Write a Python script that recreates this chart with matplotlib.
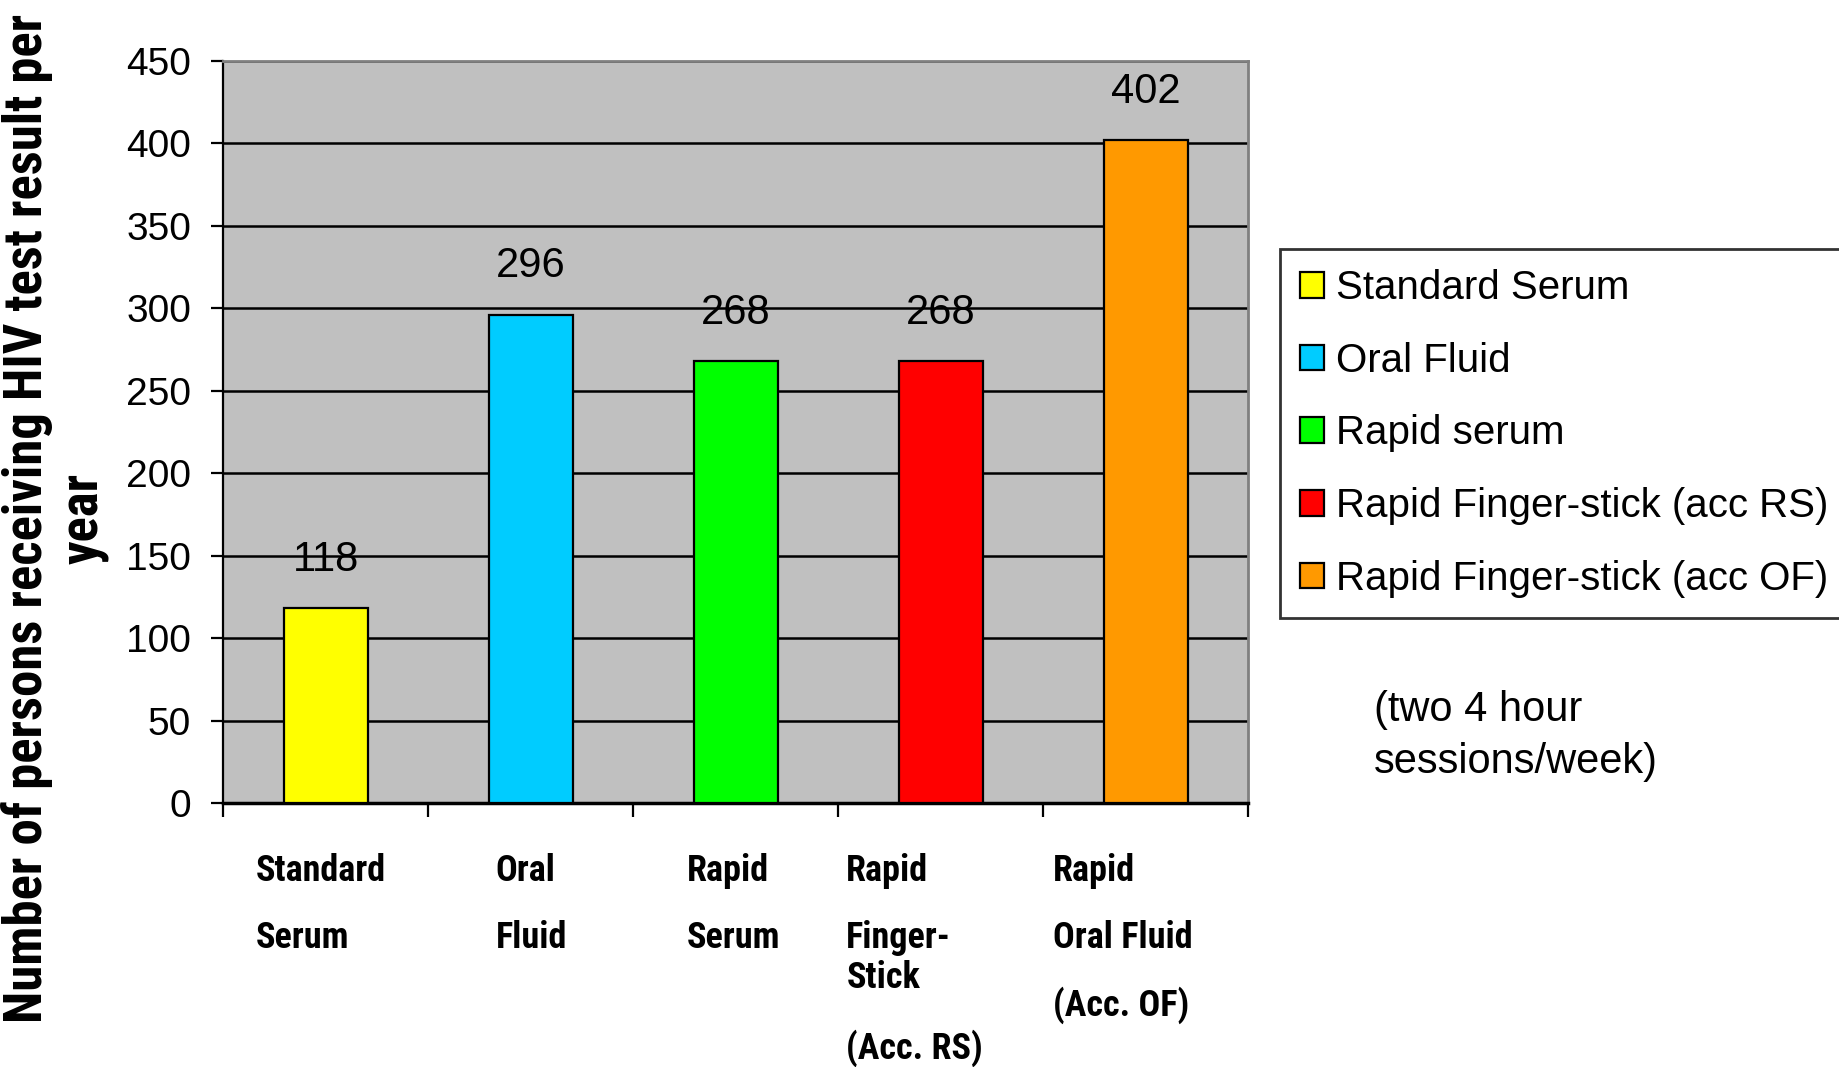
import numpy as np
import matplotlib
matplotlib.use("Agg")
from matplotlib import pyplot as plt

# data
categories = ["Standard Serum", "Oral Fluid", "Rapid serum",
              "Rapid Finger-stick (acc RS)", "Rapid Finger-stick (acc OF)"]
values = [118, 296, 268, 268, 402]
colors = ["#FFFF00", "#00CCFF", "#00FF00", "#FF0000", "#FF9900"]
x_labels = [["Standard", "Serum"],
            ["Oral", "Fluid"],
            ["Rapid", "Serum"],
            ["Rapid", "Finger-\nStick", "(Acc. RS)"],
            ["Rapid", "Oral Fluid", "(Acc. OF)"]]
y_ticks = np.arange(0, 451, 50)
y_title = "Number of persons receiving HIV test result per\nyear"
note = "(two 4 hour\nsessions/week)"

# left offset of each category label from its slot edge (layout only)
label_dx = [0.16, 0.33, 0.26, 0.04, 0.05]

narrow = "Roboto Condensed"
plain = "Liberation Sans"

fig = plt.figure(figsize=(18.39, 10.67), dpi=100)
ax = fig.add_axes([0.1213, 0.2474, 0.5574, 0.6954])
ax.set_facecolor("#C0C0C0")

x = np.arange(len(values))
for i in range(len(values)):
    ax.bar(x[i], values[i], width=0.41, color=colors[i], edgecolor="black",
           linewidth=1.6, zorder=3, label=categories[i])
    ax.annotate(str(values[i]), (x[i], values[i]), xytext=(0, 35),
                textcoords="offset points", ha="center", va="center",
                fontsize=30, family=plain)

ax.set_xlim(-0.5, len(values) - 0.5)
ax.set_ylim(0, 450)
ax.set_yticks(y_ticks)
ax.set_yticklabels([str(t) for t in y_ticks], family=plain, fontsize=28)
ax.set_xticks(np.arange(-0.5, len(values), 1))
ax.set_xticklabels([])
ax.tick_params(axis="y", direction="out", length=9, width=1.6, pad=14)
ax.tick_params(axis="x", direction="out", length=10, width=1.6)
ax.yaxis.grid(True, color="black", linewidth=1.8)
ax.set_axisbelow(True)

for s in ["top", "right"]:
    ax.spines[s].set_color("#808080")
    ax.spines[s].set_linewidth(2)
ax.spines["left"].set_linewidth(1.6)
ax.spines["bottom"].set_linewidth(2.5)

# category labels below the axis
for i, paras in enumerate(x_labels):
    off = 36
    for p in paras:
        ax.annotate(p, (i - 0.5 + label_dx[i], 0),
                    xycoords=("data", "axes fraction"),
                    xytext=(0, -off), textcoords="offset points",
                    ha="left", va="top", fontsize=26, fontweight="bold",
                    family=narrow, linespacing=1.15)
        off += 48 + 31 * p.count("\n")

fig.text(0.030, 0.514, y_title, rotation=90, ha="center", va="center",
         multialignment="center", fontsize=38, fontweight="bold",
         family=narrow, linespacing=1.12)

leg = ax.legend(loc="upper left", bbox_to_anchor=(1280 / 1839, 1 - 249 / 1067),
                bbox_transform=fig.transFigure, borderaxespad=0,
                fancybox=False, frameon=True, edgecolor="black",
                prop={"family": plain, "size": 29},
                handlelength=0.6, handleheight=0.6, handletextpad=0.3,
                labelspacing=0.86, borderpad=0.5)
leg.get_frame().set_linewidth(2)

fig.text(1374 / 1839, 1 - 690 / 1067, note, ha="left", va="top",
         fontsize=30, family=plain, linespacing=1.4)

fig.savefig("out.png", dpi=100, facecolor="white")
